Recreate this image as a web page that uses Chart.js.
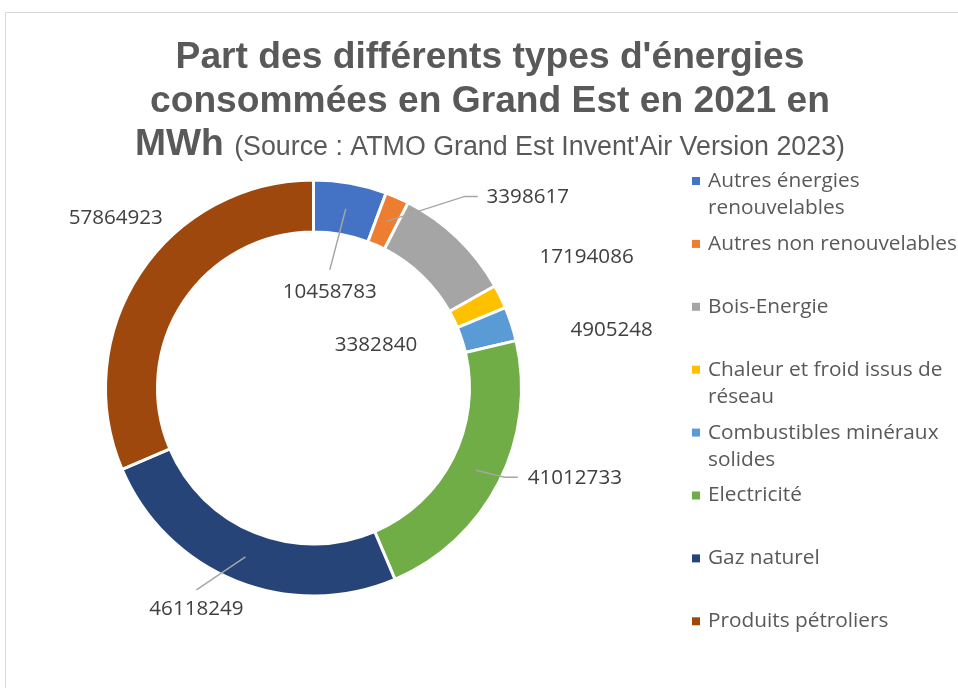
<!DOCTYPE html>
<html lang="fr">
<head>
<meta charset="utf-8">
<title>Part des différents types d'énergies consommées en Grand Est en 2021</title>
<script src="https://cdn.jsdelivr.net/npm/chart.js@4.4.0/dist/chart.umd.min.js"></script>
<style>
  html, body { margin: 0; padding: 0; background: #ffffff; width: 958px; height: 688px; overflow: hidden; }
  #frame { position: absolute; left: 5px; top: 12px; width: 1000px; height: 720px; border: 1px solid #d9d9d9; box-sizing: border-box; }
  #wrap { position: absolute; left: 0; top: 0; width: 958px; height: 688px; }
</style>
</head>
<body>
<div id="frame"></div>
<div id="wrap"><canvas id="chart" width="958" height="688"></canvas></div>
<script>
// Energy types (legend order = slice order, clockwise from 12 o'clock)
const energyTypes = [
  "Autres énergies renouvelables",
  "Autres non renouvelables",
  "Bois-Energie",
  "Chaleur et froid issus de réseau",
  "Combustibles minéraux solides",
  "Electricité",
  "Gaz naturel",
  "Produits pétroliers"
];

// Consumption in MWh, 2021
const consumptionMWh = [
  10458783,
  3398617,
  17194086,
  3382840,
  4905248,
  41012733,
  46118249,
  57864923
];

const sliceColors = [
  "#4472C4", "#ED7D31", "#A5A5A5", "#FFC000",
  "#5B9BD5", "#70AD47", "#264478", "#9E480E"
];

const titleLines = [
  "Part des différents types d'énergies",
  "consommées en Grand Est en 2021 en"
];
const unitText = "MWh";
const sourceText = "(Source : ATMO Grand Est Invent'Air Version 2023)";

// Title block: two bold lines, then bold unit followed by the source in regular weight
const titleBlock = {
  id: 'titleBlock',
  afterDraw(chart, args, o) {
    const ctx = chart.ctx;
    ctx.save();
    ctx.fillStyle = o.color;
    ctx.textBaseline = 'alphabetic';
    ctx.textAlign = 'center';
    ctx.font = o.boldFont;
    titleLines.forEach((t, i) => ctx.fillText(t, o.centerX, o.baselines[i]));
    ctx.textAlign = 'left';
    ctx.font = o.boldFont;
    const wUnit = ctx.measureText(unitText + ' ').width;
    ctx.font = o.sourceFont;
    const wSrc = ctx.measureText(sourceText).width;
    let x = o.centerX - (wUnit + wSrc) / 2;
    const yb = o.baselines[2];
    ctx.font = o.boldFont;
    ctx.fillText(unitText, x, yb);
    ctx.font = o.sourceFont;
    ctx.fillText(sourceText, x + wUnit, yb);
    ctx.restore();
  }
};

// Value labels placed relative to each slice's centroid, with optional leader lines
const sliceValues = {
  id: 'sliceValues',
  afterDatasetsDraw(chart, args, o) {
    const ctx = chart.ctx;
    const meta = chart.getDatasetMeta(0);
    const values = chart.data.datasets[0].data;
    ctx.save();
    ctx.font = o.font;
    ctx.textAlign = 'center';
    ctx.textBaseline = 'middle';
    meta.data.forEach((arc, i) => {
      const p = arc.getProps(['x', 'y', 'startAngle', 'endAngle', 'innerRadius', 'outerRadius'], true);
      const a = (p.startAngle + p.endAngle) / 2;
      const r = (p.innerRadius + p.outerRadius) / 2;
      const cx = p.x + Math.cos(a) * r;
      const cy = p.y + Math.sin(a) * r;
      const lx = cx + o.offsets[i][0];
      const ly = cy + o.offsets[i][1];
      const leader = o.leaders[i];
      if (leader) {
        ctx.beginPath();
        ctx.moveTo(cx, cy);
        leader.forEach(([ox, oy]) => ctx.lineTo(lx + ox, ly + oy));
        ctx.strokeStyle = o.leaderColor;
        ctx.lineWidth = 1.5;
        ctx.stroke();
      }
      ctx.fillStyle = o.color;
      ctx.fillText(String(values[i]), lx, ly);
    });
    ctx.restore();
  }
};

// Right-hand legend with word wrapping and fixed-height slots
const sideLegend = {
  id: 'sideLegend',
  afterDraw(chart, args, o) {
    const ctx = chart.ctx;
    const labels = chart.data.labels;
    const colors = chart.data.datasets[0].backgroundColor;
    ctx.save();
    ctx.font = o.font;
    ctx.textAlign = 'left';
    ctx.textBaseline = 'middle';
    labels.forEach((label, i) => {
      const words = label.split(' ');
      const lines = [];
      let cur = '';
      words.forEach(w => {
        const test = cur ? cur + ' ' + w : w;
        if (cur && ctx.measureText(test).width > o.maxWidth) { lines.push(cur); cur = w; }
        else cur = test;
      });
      lines.push(cur);
      const y0 = o.top + i * o.step;
      ctx.fillStyle = colors[i];
      ctx.fillRect(o.left, y0 - o.box / 2, o.box, o.box);
      ctx.fillStyle = o.color;
      lines.forEach((ln, k) => ctx.fillText(ln, o.left + o.textGap, y0 + k * o.lineHeight));
    });
    ctx.restore();
  }
};

new Chart(document.getElementById('chart'), {
  type: 'doughnut',
  data: {
    labels: energyTypes,
    datasets: [{
      data: consumptionMWh,
      backgroundColor: sliceColors,
      borderColor: '#ffffff',
      borderWidth: 3
    }]
  },
  options: {
    responsive: false,
    animation: false,
    cutout: '75%',
    layout: { padding: { left: 104, right: 435, top: 178.5, bottom: 90.5 } },
    events: [],
    plugins: {
      legend: { display: false },
      title: { display: false },
      tooltip: { enabled: false },
      titleBlock: {
        color: '#595959',
        centerX: 490,
        baselines: [68, 112, 155],
        boldFont: 'bold 37.2px "Liberation Sans", Arial, sans-serif',
        sourceFont: '26.8px "Liberation Sans", Arial, sans-serif'
      },
      sliceValues: {
        font: '20.6px "Open Sans", sans-serif',
        color: '#404040',
        leaderColor: '#a6a6a6',
        offsets: [[-16, 83], [141, -24], [147, 0], [-101, 37], [125, -2], [99, 8], [-49, 52], [-46, -69]],
        leaders: [[[0, -22]], [[-63, -1], [-50, -1]], null, null, null, [[-70, -1], [-57, -1]], [[0, -19]], null]
      },
      sideLegend: {
        font: '20.8px "Open Sans", sans-serif',
        color: '#595959',
        left: 692,
        textGap: 16,
        box: 8,
        top: 181,
        step: 62.9,
        lineHeight: 27,
        maxWidth: 254
      }
    }
  },
  plugins: [titleBlock, sliceValues, sideLegend]
});
</script>
</body>
</html>
